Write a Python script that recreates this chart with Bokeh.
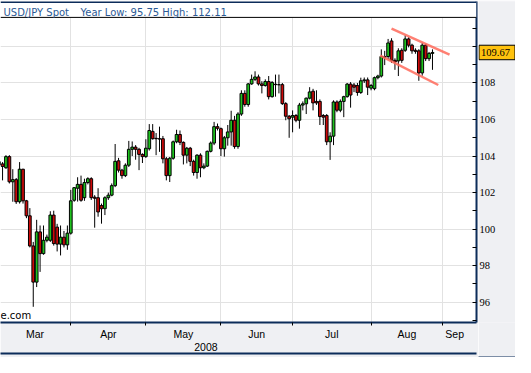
import pandas as pd
from bokeh.plotting import figure
from bokeh.layouts import row
from bokeh.models import (ColumnDataSource, LinearAxis, FixedTicker, Range1d, Label,
                          Span, BoxAnnotation)
from bokeh.embed import file_html
from bokeh.resources import INLINE

# ---------------- data (USD/JPY daily candles, 3 Mar 2008 .. 27 Aug 2008) -------------
opens = [103.70, 103.57, 103.36, 103.97, 102.59, 102.71, 101.50, 103.28, 101.55, 100.73,
         99.08, 97.10, 99.85, 98.66, 99.39, 99.39, 100.77, 100.11, 99.18, 99.56,
         99.14, 99.78, 101.58, 102.24, 102.45, 101.72, 102.55, 102.76, 101.75, 101.72,
         101.29, 101.12, 101.72, 101.86, 102.38, 103.74, 103.23, 102.93, 103.50, 104.37,
         104.49, 104.37, 104.09, 103.97, 104.40, 105.35, 104.97, 104.95, 104.95, 103.85,
         102.93, 103.88, 104.78, 105.18, 104.75, 104.05, 104.43, 103.71, 103.10, 104.05,
         103.36, 103.45, 104.26, 104.71, 105.61, 105.50, 104.40, 105.00, 105.32, 105.96,
         104.52, 106.30, 107.43, 106.82, 107.95, 108.20, 108.33, 107.95, 107.86, 108.08,
         107.25, 107.93, 107.91, 107.91, 106.87, 106.18, 106.13, 106.22, 105.96, 106.79,
         106.86, 107.17, 107.55, 106.99, 106.99, 106.22, 106.22, 104.78, 105.09, 106.96,
         106.51, 106.99, 107.25, 107.94, 107.89, 107.86, 107.48, 108.12, 108.17, 107.72,
         107.69, 108.29, 108.38, 109.45, 109.45, 110.30, 109.24, 109.21, 109.79, 109.79,
         110.41, 110.07, 109.79, 109.76, 108.55, 110.07, 109.33, 109.62]
highs = [103.90, 103.67, 104.05, 104.05, 103.28, 102.80, 103.67, 103.30, 101.60, 101.15,
         99.30, 100.51, 100.20, 100.20, 99.70, 100.98, 101.01, 100.29, 100.20, 99.90,
         100.20, 102.15, 102.30, 102.84, 102.93, 102.76, 102.84, 102.84, 101.86, 102.24,
         101.40, 101.80, 102.00, 102.50, 104.66, 103.90, 103.30, 103.60, 104.83, 104.80,
         104.60, 104.45, 104.15, 104.92, 105.75, 105.75, 105.26, 105.61, 105.10, 103.95,
         103.95, 104.85, 105.44, 105.40, 104.80, 104.50, 104.50, 103.80, 104.10, 104.15,
         103.60, 104.30, 104.80, 105.87, 105.78, 105.56, 105.10, 105.70, 106.48, 106.20,
         106.40, 107.60, 107.60, 108.00, 108.46, 108.64, 108.46, 108.10, 108.20, 108.38,
         108.10, 108.46, 108.46, 108.00, 106.95, 106.25, 106.50, 106.30, 106.91, 106.99,
         107.20, 107.77, 107.68, 107.60, 107.10, 106.30, 106.30, 105.30, 107.05, 107.05,
         107.10, 107.30, 108.00, 108.05, 108.00, 108.00, 108.29, 108.30, 108.30, 107.95,
         108.35, 108.45, 109.84, 109.76, 110.41, 110.45, 109.35, 109.90, 109.90, 110.60,
         110.50, 110.15, 109.90, 109.85, 110.20, 110.15, 109.70, 109.84]
lows = [103.30, 102.67, 103.30, 102.50, 101.50, 101.38, 101.40, 101.40, 100.60, 99.00,
        95.75, 96.83, 97.66, 98.60, 99.28, 99.30, 99.10, 98.78, 98.56, 99.00,
        98.87, 99.70, 101.50, 101.51, 101.50, 101.55, 102.45, 101.60, 100.08, 100.68,
        100.30, 100.77, 101.60, 101.80, 102.30, 103.10, 102.76, 102.85, 103.40, 104.00,
        103.80, 103.23, 103.62, 103.90, 104.30, 104.90, 104.05, 104.23, 103.60, 102.67,
        102.58, 103.80, 104.70, 104.60, 103.54, 103.60, 103.45, 102.93, 102.76, 102.84,
        103.28, 103.40, 104.20, 104.60, 105.40, 104.00, 103.97, 104.57, 104.57, 104.40,
        104.40, 106.20, 106.70, 106.70, 107.90, 108.10, 107.86, 107.43, 107.80, 107.10,
        107.20, 107.25, 107.43, 106.80, 105.96, 105.00, 105.30, 105.85, 105.50, 106.50,
        106.30, 107.10, 106.50, 106.80, 105.70, 105.70, 104.60, 103.79, 104.60, 106.40,
        106.40, 106.13, 107.20, 106.65, 107.50, 107.30, 107.40, 108.00, 107.34, 107.60,
        107.60, 108.20, 108.30, 108.98, 109.30, 109.10, 108.72, 108.38, 109.10, 109.70,
        109.95, 109.60, 109.60, 108.12, 108.40, 109.20, 109.20, 108.72]
closes = [103.50, 103.43, 103.97, 102.59, 102.71, 101.50, 103.28, 101.55, 100.73, 99.08,
          97.10, 99.85, 98.66, 99.39, 99.56, 100.77, 99.21, 99.18, 99.56, 99.14,
          99.78, 101.55, 102.27, 102.45, 101.58, 102.55, 102.76, 101.72, 101.69, 100.94,
          101.12, 101.72, 101.86, 102.38, 103.71, 103.23, 102.93, 103.50, 104.37, 104.49,
          104.37, 104.09, 103.97, 104.43, 105.40, 104.95, 104.95, 104.93, 103.85, 102.93,
          103.88, 104.78, 105.18, 104.75, 104.05, 104.43, 103.71, 103.10, 104.05, 103.36,
          103.45, 104.26, 104.71, 105.61, 105.52, 104.40, 105.00, 105.32, 105.96, 104.52,
          106.30, 107.43, 106.82, 107.95, 108.20, 108.33, 107.95, 107.86, 108.08, 107.25,
          108.03, 107.91, 107.90, 106.87, 106.18, 106.04, 106.22, 105.96, 106.79, 106.86,
          107.17, 107.51, 106.91, 106.91, 106.16, 106.13, 104.78, 105.09, 106.96, 106.51,
          106.99, 107.25, 107.94, 107.34, 107.77, 107.48, 108.12, 108.17, 107.77, 107.86,
          108.29, 108.38, 109.45, 109.40, 110.19, 109.24, 109.15, 109.76, 109.24, 110.41,
          110.07, 109.76, 109.73, 108.55, 110.07, 109.33, 109.62, 109.67]

month_labels = ["Mar", "Apr", "May", "Jun", "Jul", "Aug", "Sep"]
y_grid = [96, 98, 100, 102, 104, 106, 108, 110]
y_labels = [96, 98, 100, 102, 104, 106, 108]   # 110 sits under the last-price box
y_all_ticks = list(range(95, 112))
last_price = 109.67
title_left = "USD/JPY Spot"
title_right = "Year Low: 95.75 High: 112.11"
year_text = "2008"

# trend channel drawn on the chart (x in trading-day index, y in price)
chan_x = [115.0, 132.0]
chan_upper = [110.97, 109.55]
chan_lx = [111.7, 128.7]
chan_lower = [109.50, 107.89]

# ---------------- derived -------------
n = len(opens)
days = pd.bdate_range("2008-03-03", periods=140)
xs = list(range(n))
month_starts = [i for i in range(1, len(days)) if days[i].month != days[i - 1].month]
bounds = [0] + month_starts
mids = [(bounds[k] + bounds[k + 1]) / 2 for k in range(len(bounds) - 1)] + [month_starts[-1] + 3.5]

up = [c >= o for o, c in zip(opens, closes)]
src = ColumnDataSource(dict(
    x=xs, high=highs, low=lows,
    top=[max(o, c) for o, c in zip(opens, closes)],
    bottom=[min(o, c) for o, c in zip(opens, closes)],
    color=["#1ec31e" if u else "#cc0a0a" for u in up],
))

NAVY = "#0c2c5a"
BG = "#eff0f3"
H = 357
TOP_B, BOT_B = 1, 32
Y_START = 94.89
PLOT_TOP = 111.59   # top of the price area; the band above holds the header text
Y_END = 112.46
MAIN_W = 478
SIDE_W = 515 - MAIN_W
FONT = "Liberation Sans"
FSIZE = "10.5px"

y_range = Range1d(Y_START, Y_END)

p = figure(width=MAIN_W, height=H, output_backend="svg", toolbar_location=None,
           x_range=Range1d(0.4, 139.9), y_range=y_range,
           x_axis_location="below", y_axis_location="right",
           min_border_left=0, min_border_right=2, min_border_top=TOP_B,
           min_border_bottom=BOT_B,
           background_fill_color="white", border_fill_color=BG,
           outline_line_color=None)

# grids
p.xgrid.ticker = FixedTicker(ticks=month_starts)
p.xgrid.grid_line_color = "#e2e2e2"
p.ygrid.ticker = FixedTicker(ticks=y_grid)
p.ygrid.grid_line_color = "#e2e2e2"

# right axis: line + inward ticks at every unit (its numbers are in the side strip)
p.yaxis.ticker = FixedTicker(ticks=[], minor_ticks=y_all_ticks)
p.yaxis.axis_label = None
p.yaxis.axis_line_color = NAVY
p.yaxis.axis_line_width = 2
p.yaxis.major_tick_in = 0
p.yaxis.major_tick_out = 0
p.yaxis.minor_tick_in = 4
p.yaxis.minor_tick_out = 0
p.yaxis.minor_tick_line_color = "black"
p.yaxis.major_label_standoff = 0

NO_AXIS_LABEL = dict(axis_label=None, axis_label_standoff=0, axis_label_text_font_size="1px")


def bottom_axes(fig, month_ticks, month_minor, month_text, year_ticks, year_text_map,
                month_line):
    """Month axis, year axis and bottom edge line, identical in both panels."""
    ax = fig.xaxis[0]
    ax.update(**NO_AXIS_LABEL)
    ax.ticker = FixedTicker(ticks=month_ticks, minor_ticks=month_minor)
    ax.major_label_overrides = month_text
    ax.major_tick_line_color = None
    ax.major_tick_out = 3
    ax.major_tick_in = 0
    ax.minor_tick_line_color = "black"
    ax.minor_tick_out = 3
    ax.minor_tick_in = 0
    ax.axis_line_color = month_line
    ax.axis_line_width = 2
    ax.major_label_standoff = 2
    ax.major_label_text_font = FONT
    ax.major_label_text_font_size = FSIZE
    ax.major_label_text_color = "black"
    yax = LinearAxis(ticker=FixedTicker(ticks=year_ticks),
                     major_label_overrides=year_text_map,
                     axis_line_color=None, major_tick_line_color=None,
                     minor_tick_line_color=None,
                     major_tick_out=0, major_tick_in=0, minor_tick_out=0, minor_tick_in=0,
                     major_label_standoff=0,
                     major_label_text_font=FONT, major_label_text_font_size=FSIZE,
                     major_label_text_color="black", **NO_AXIS_LABEL)
    fig.add_layout(yax, "below")
    edge = LinearAxis(ticker=FixedTicker(ticks=[]), axis_line_color=NAVY, axis_line_width=2,
                      major_tick_line_color=None, minor_tick_line_color=None,
                      major_tick_out=0, major_tick_in=0, minor_tick_out=0, minor_tick_in=0,
                      major_label_standoff=0, major_label_text_font_size="1px",
                      **NO_AXIS_LABEL)
    fig.add_layout(edge, "below")


YEAR_POS = 60.6
bottom_axes(p, mids, month_starts, {m: t for m, t in zip(mids, month_labels)},
            [YEAR_POS], {YEAR_POS: year_text}, NAVY)

# candles
p.segment(x0="x", y0="low", x1="x", y1="high", source=src, line_color="black", line_width=1)
p.vbar(x="x", width=0.8, top="top", bottom="bottom", source=src,
       fill_color="color", line_color="black", line_width=1)

# channel lines
p.line(chan_x, chan_upper, line_color="#ff6a5a", line_width=2.5, line_alpha=0.85)
p.line(chan_lx, chan_lower, line_color="#ff6a5a", line_width=2.5, line_alpha=0.85)

# header band
p.add_layout(BoxAnnotation(bottom=PLOT_TOP, fill_color="white", fill_alpha=1.0,
                           line_color=None))
p.add_layout(Span(location=PLOT_TOP, dimension="width", line_color="black", line_width=1))
p.add_layout(Span(location=Y_END, dimension="width", line_color=NAVY, line_width=3))
hdr = dict(y=PLOT_TOP, y_offset=-1, text_font="DejaVu Sans", text_font_size="10px",
           text_color="#2b5a96", text_baseline="bottom")
p.add_layout(Label(x=3, x_units="screen", text=title_left, **hdr))
p.add_layout(Label(x=80, x_units="screen", text=title_right, **hdr))

# watermark remnant
p.add_layout(Label(x=0, y=2, x_units="screen", y_units="screen", text="e.com",
                   text_font="DejaVu Sans", text_font_size="10px", text_color="black"))

# ---------------- side strip: price-axis numbers and last-price box -------------
s = figure(width=SIDE_W, height=H, output_backend="svg", toolbar_location=None,
           x_range=Range1d(0, SIDE_W), y_range=y_range,
           x_axis_location="below", y_axis_location=None,
           min_border_left=0, min_border_right=0, min_border_top=TOP_B,
           min_border_bottom=BOT_B,
           background_fill_color=BG, border_fill_color=BG, outline_line_color=None)
s.xgrid.visible = False
s.ygrid.visible = False
SPACER = "\u00a0"
bottom_axes(s, [SIDE_W / 2], [], {SIDE_W / 2: SPACER}, [SIDE_W / 2], {SIDE_W / 2: SPACER},
            None)
s.text(x=[1] * len(y_labels), y=y_labels, text=[str(v) for v in y_labels],
       text_font=FONT, text_font_size=FSIZE, text_color="black",
       text_baseline="middle", text_align="left")
s.rect(x=[SIDE_W / 2], y=[last_price], width=SIDE_W - 1, height=14.5, height_units="screen",
       fill_color="#ffc20e", line_color="black", line_width=1)
s.text(x=[2.5], y=[last_price], text=[f"{last_price:.2f}"],
       text_font=FONT, text_font_size=FSIZE, text_color="black",
       text_baseline="middle", text_align="left")

open("out.html", "w").write(file_html(row(p, s), INLINE))
